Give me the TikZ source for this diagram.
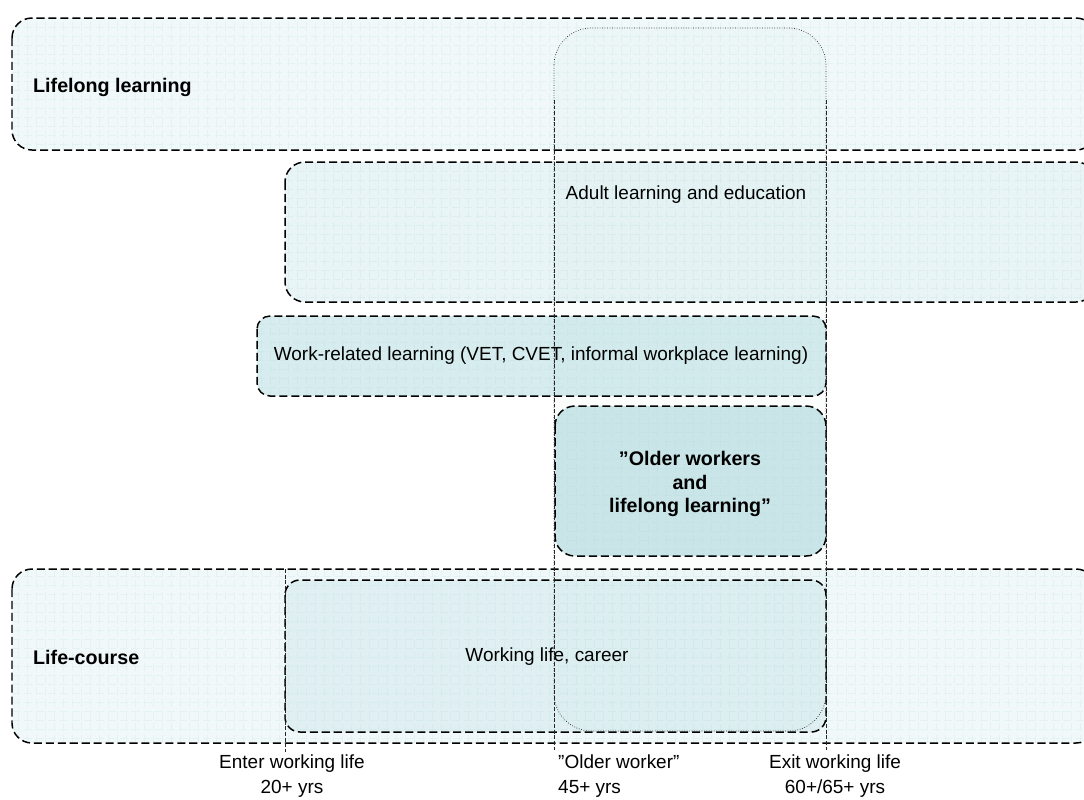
\documentclass[tikz,border=0pt]{standalone}
\usepackage{fontspec}
\setmainfont{Liberation Sans}
\definecolor{fillA}{RGB}{240,248,249}
\definecolor{fillB}{RGB}{232,244,245}
\definecolor{fillC}{RGB}{215,236,238}
\definecolor{fillD}{RGB}{205,231,234}
\definecolor{fillE}{RGB}{224,240,242}
\definecolor{gridc}{RGB}{170,215,220}
\begin{document}
\begin{tikzpicture}[x=0.02cm,y=-0.02cm,
    every node/.style={font=\fontsize{10.8}{13}\selectfont},
    gridfill/.style={path picture={\draw[gridc,line width=0.15pt,draw opacity=0.18] (path picture bounding box.south west) grid[step=0.18cm] (path picture bounding box.north east);}},
    area/.style={draw=black,line width=0.85pt,dash pattern=on 4.6pt off 2.2pt,rounded corners=0.4cm,gridfill},
    period/.style={draw=black!85,line width=0.4pt,densely dotted,rounded corners=0.75cm},
    guide/.style={draw=black!85,line width=0.45pt,dash pattern=on 2.2pt off 1pt},
    label/.style={font=\fontsize{11.2}{13}\selectfont\bfseries}]
  \useasboundingbox (0,0) rectangle (1084,799);
  \clip (0,0) rectangle (1084,799);
  % areas
  \draw[area,fill=fillA] (12,18) rectangle (1096,150);
  \draw[area,fill=fillB] (285,162) rectangle (1096,302);
  \draw[area,fill=fillC,rounded corners=0.26cm] (257,316) rectangle (826,396);
  \draw[area,fill=fillA] (12,569) rectangle (1096,743);
  \draw[area,fill=fillE,rounded corners=0.3cm] (285,580) rectangle (826,732);
  \draw[area,fill=fillD] (555,406) rectangle (826,556);
  \draw[period,fill=teal,fill opacity=0.015] (554,28) rectangle (826,731);
  % age marks
  \coordinate (enter) at (285,569);
  \coordinate (older) at (554,100);
  \coordinate (exit) at (826,100);
  \draw[guide] (enter) -- (285,752);
  \draw[guide] (older) -- (554,752);
  \draw[guide] (exit) -- (826,752);
  % texts
  \node[label,anchor=west] (lll) at (27,87) {Lifelong learning};
  \node (ale) at (686,195) {Adult learning and education};
  \node (wrl) at (541,356) {Work-related learning (VET, CVET, informal workplace learning)};
  \node[label,align=center,font=\fontsize{11.2}{13.2}\selectfont\bfseries] (owl) at (690,484) {”Older workers\\and\\lifelong learning”};
  \node[label,anchor=west] (lc) at (27,657) {Life-course};
  \node (wlc) at (547,657) {Working life, career};
  \node[align=center,font=\fontsize{10.8}{14.7}\selectfont] (entert) at (292,776) {Enter working life\\20+ yrs};
  \node[align=left,anchor=west,font=\fontsize{10.8}{14.7}\selectfont] (oldert) at (552,776) {"Older worker”\\45+ yrs};
  \node[align=center,font=\fontsize{10.8}{14.7}\selectfont] (exitt) at (835,776) {Exit working life\\60+/65+ yrs};
\end{tikzpicture}
\end{document}
